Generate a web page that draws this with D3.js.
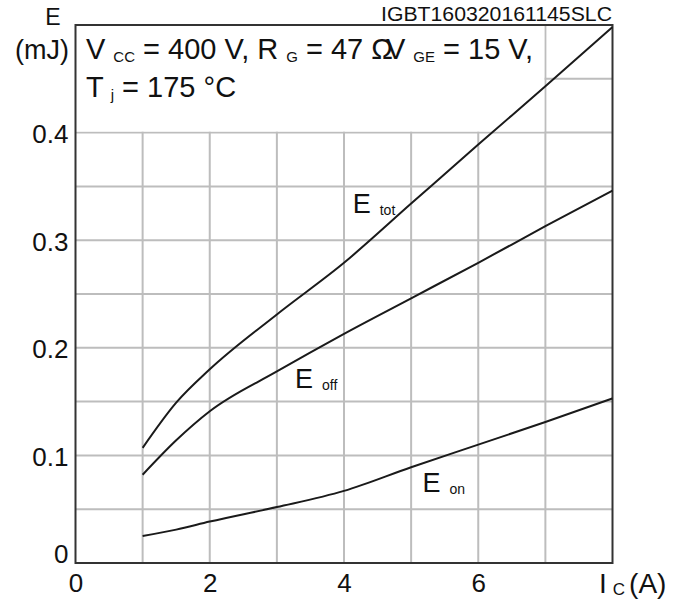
<!DOCTYPE html>
<html>
<head>
<meta charset="utf-8">
<script src="https://cdn.jsdelivr.net/npm/d3@7"></script>
<style>
  html, body { margin: 0; padding: 0; background: #fff; }
  svg { display: block; font-family: "Liberation Sans", Arial, sans-serif; }
  text { fill: #111; }
</style>
</head>
<body>
<svg id="chart" width="674" height="603"></svg>
<script>
// Switching energy vs collector current
const current = [1, 1.5, 2, 3, 4, 5, 6, 7, 8];
const eOn  = [0.025, 0.031, 0.0385, 0.052, 0.067, 0.089, 0.110, 0.131, 0.153];
const eOff = [0.082, 0.114, 0.141, 0.178, 0.213, 0.246, 0.279, 0.313, 0.346];
const eTot = [0.107, 0.149, 0.180, 0.231, 0.279, 0.334, 0.389, 0.443, 0.498];

const xTickValues = [0, 2, 4, 6];
const xTickLabels = ["0", "2", "4", "6"];
const yTickValues = [0, 0.1, 0.2, 0.3, 0.4];
const yTickLabels = ["0", "0.1", "0.2", "0.3", "0.4"];
const xGridValues = [1, 2, 3, 4, 5, 6, 7];
const yGridValues = [0.05, 0.1, 0.15, 0.2, 0.25, 0.3, 0.35, 0.4, 0.45];

const svg = d3.select("#chart");
const plotLeft = 75.5, plotRight = 612.5, plotTop = 25, plotBottom = 563;

const x = d3.scaleLinear().domain([0, 8]).range([plotLeft, plotRight]);
const y = d3.scaleLinear().domain([0, 0.5]).range([plotBottom, plotTop]);

// grid
const grid = svg.append("g").attr("stroke", "#bdbdbd").attr("stroke-width", 2);
grid.selectAll("line.v").data(xGridValues).join("line")
  .attr("class", "v")
  .attr("x1", d => x(d)).attr("x2", d => x(d))
  .attr("y1", y(0)).attr("y2", y(0.5));
grid.selectAll("line.h").data(yGridValues).join("line")
  .attr("class", "h")
  .attr("x1", x(0)).attr("x2", x(8))
  .attr("y1", d => y(d)).attr("y2", d => y(d));

// white panel behind the test conditions
svg.append("rect")
  .attr("x", x(0)).attr("y", y(0.5))
  .attr("width", x(7) - x(0) - 1)
  .attr("height", y(0.4) - y(0.5) - 1)
  .attr("fill", "#fff");

// frame
svg.append("rect")
  .attr("x", x(0)).attr("y", y(0.5))
  .attr("width", x(8) - x(0)).attr("height", y(0) - y(0.5))
  .attr("fill", "none").attr("stroke", "#333").attr("stroke-width", 2);

// curves
const series = [eOn, eOff, eTot];
const line = d3.line()
  .x((d, i) => x(current[i]))
  .y(d => y(d))
  .curve(d3.curveMonotoneX);
svg.append("g").selectAll("path").data(series).join("path")
  .attr("d", d => line(d))
  .attr("fill", "none").attr("stroke", "#1a1a1a").attr("stroke-width", 2);

// axes (labels only)
const yAxis = d3.axisLeft(y).tickValues(yTickValues)
  .tickFormat((d, i) => yTickLabels[i]).tickSize(0).tickPadding(0);
const gy = svg.append("g").attr("transform", `translate(${plotLeft - 7},0)`).call(yAxis);
gy.select(".domain").remove();
gy.selectAll("text")
  .attr("font-size", 26).attr("font-family", "Liberation Sans, Arial, sans-serif")
  .attr("fill", "#111")
  .attr("dy", d => d === 0 ? "-0.02em" : "0.38em");

const xAxis = d3.axisBottom(x).tickValues(xTickValues)
  .tickFormat((d, i) => xTickLabels[i]).tickSize(0).tickPadding(0);
const gx = svg.append("g").attr("transform", `translate(0,${plotBottom})`).call(xAxis);
gx.select(".domain").remove();
gx.selectAll("text")
  .attr("font-size", 26).attr("font-family", "Liberation Sans, Arial, sans-serif")
  .attr("fill", "#111")
  .attr("dy", "1.12em");

// axis titles
svg.append("text").attr("x", 53).attr("y", 25).attr("text-anchor", "middle")
  .attr("font-size", 23).text("E");
svg.append("text").attr("x", 42).attr("y", 59).attr("text-anchor", "middle")
  .attr("font-size", 27).text("(mJ)");

const xt = svg.append("text").attr("x", 599).attr("y", 593).attr("font-size", 28);
xt.append("tspan").text("I");
xt.append("tspan").attr("font-size", 17).attr("dx", 6).attr("dy", 2).text("C");
xt.append("tspan").attr("dx", 4).attr("dy", -2).text("(A)");

// drawing id
svg.append("text").attr("x", 612).attr("y", 21).attr("text-anchor", "end")
  .attr("font-size", 20).attr("textLength", 231).attr("lengthAdjust", "spacingAndGlyphs")
  .text("IGBT160320161145SLC");

// test conditions
const c1 = svg.append("text").attr("x", 86).attr("y", 59).attr("font-size", 29);
c1.append("tspan").text("V");
c1.append("tspan").attr("font-size", 15).attr("dx", 8).attr("dy", 3).text("CC");
c1.append("tspan").attr("dy", -3).text(" = 400 V, R");
c1.append("tspan").attr("font-size", 15).attr("dx", 8).attr("dy", 3).text("G");
c1.append("tspan").attr("dy", -3).text(" = 47 Ω");
c1.append("tspan").attr("dx", -7).text("V");
c1.append("tspan").attr("font-size", 15).attr("dx", 8).attr("dy", 3).text("GE");
c1.append("tspan").attr("dy", -3).text(" = 15 V,");

const c2 = svg.append("text").attr("x", 86).attr("y", 97).attr("font-size", 29);
c2.append("tspan").text("T");
c2.append("tspan").attr("font-size", 15).attr("dx", 7).attr("dy", 3).text("j");
c2.append("tspan").attr("dy", -3).text(" = 175 °C");

// curve labels
const labels = [
  { name: "E", sub: "tot", cx: 4.13, cy: 0.3256 },
  { name: "E", sub: "off", cx: 3.27, cy: 0.1626 },
  { name: "E", sub: "on", cx: 5.17, cy: 0.0663 }
];
labels.forEach(l => {
  const t = svg.append("text").attr("x", x(l.cx)).attr("y", y(l.cy)).attr("font-size", 27);
  t.append("tspan").text(l.name);
  t.append("tspan").attr("font-size", 14).attr("dx", 9).attr("dy", 2).text(l.sub);
});
</script>
</body>
</html>
